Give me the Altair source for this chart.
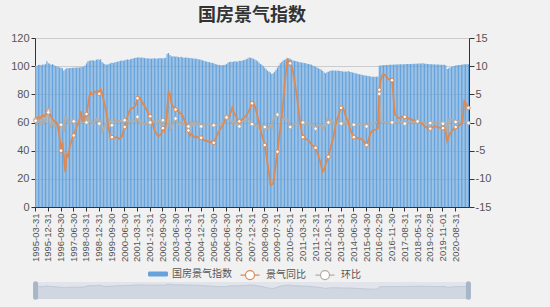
import altair as alt
import pandas as pd

# ---- categories: month spans (year, first month, last month) ----
year_spans = ([(1995, 3, 12)] + [(y, 1, 12) for y in range(1996, 2009)]
              + [(y, 2, 12) for y in range(2009, 2017)]
              + [(y, 1, 12) for y in range(2017, 2021)] + [(2021, 2, 6)])

tick_labels = ["1995-03-31", "1995-12-31", "1996-09-30", "1997-06-30", "1998-03-31",
               "1998-12-31", "1999-09-30", "2000-06-30", "2001-03-31", "2001-12-31",
               "2002-09-30", "2003-06-30", "2004-03-31", "2004-12-31", "2005-09-30",
               "2006-06-30", "2007-03-31", "2007-12-31", "2008-09-30", "2009-07-31",
               "2010-05-31", "2011-03-31", "2011-12-31", "2012-10-31", "2013-08-31",
               "2014-06-30", "2015-04-30", "2016-02-29", "2016-11-30", "2017-08-31",
               "2018-05-31", "2019-02-28", "2019-11-01", "2020-08-31"]

# ---- 国房景气指数 (left axis) ----
index_values = [
    100.5, 100.2, 100.8, 101.0, 100.6, 101.2, 101.0, 101.5, 103.5, 102.0,
    101.8, 101.0, 101.5, 100.8, 100.2, 99.8, 99.5, 99.0, 98.8, 98.5, 96.8, 97.8,
    98.5, 98.6, 98.6, 98.7, 98.8, 98.8, 98.9, 99.0, 99.0, 99.1, 99.3, 99.5,
    99.6, 100.5, 102.0, 103.5, 103.8, 104.0, 104.2, 104.0, 103.8, 104.5, 105.0, 104.5,
    105.0, 103.0, 102.0, 101.5, 101.0, 101.2, 101.8, 102.0, 102.5, 102.3, 102.8, 103.0,
    103.2, 103.5, 103.8, 104.0, 103.8, 104.2, 104.5, 104.8, 104.6, 105.0, 105.2, 105.5,
    105.8, 106.0, 106.2, 106.3, 106.0, 106.2, 106.0, 105.8, 105.5, 105.6, 105.4, 105.5,
    105.3, 105.4, 105.6, 105.5, 105.3, 105.6, 105.8, 105.5, 105.6, 105.7, 106.0, 108.8,
    109.3, 108.0, 107.0, 106.8, 107.0, 106.6, 106.8, 106.5, 106.4, 106.6, 106.2, 106.0,
    106.2, 105.9, 106.0, 105.6, 105.8, 105.4, 105.5, 105.2, 105.3, 105.0, 104.8, 104.5,
    104.2, 103.8, 103.5, 103.3, 103.0, 102.8, 102.5, 102.2, 102.0, 101.6, 101.2, 101.0,
    100.8, 100.7, 100.6, 100.8, 101.0, 101.5, 102.5, 103.0, 103.2, 103.0, 103.3, 103.5,
    103.2, 103.4, 103.8, 103.6, 104.0, 104.2, 104.5, 105.0, 105.5, 106.2, 106.0, 105.6,
    105.2, 104.8, 104.2, 103.5, 102.5, 101.5, 101.0, 100.0, 98.8, 97.8, 96.8, 96.0,
    95.5, 94.5, 95.0, 96.0, 97.5, 99.0, 100.5, 102.0, 103.0, 104.0, 104.5,
    105.0, 105.5, 105.6, 105.3, 104.5, 104.0, 103.8, 103.6, 103.4, 103.0, 102.8,
    102.6, 102.5, 102.2, 102.0, 101.8, 101.6, 101.4, 101.0, 100.5, 100.0, 99.5,
    99.0, 98.5, 97.9, 97.5, 96.5, 95.5, 95.0, 95.6, 96.0, 96.6, 97.0,
    97.0, 97.0, 96.8, 96.8, 96.9, 96.6, 96.6, 96.3, 96.0, 96.2, 96.0,
    96.5, 96.0, 95.8, 95.5, 95.3, 95.0, 94.8, 94.5, 94.2, 94.0, 93.8,
    93.6, 93.4, 93.2, 93.0, 92.8, 92.6, 92.5, 92.4, 92.4, 92.5, 92.6,
    100.3, 100.5, 100.6, 100.7, 100.8, 100.8, 100.9, 101.0, 101.0, 101.0, 101.1,
    101.1, 101.2, 101.2, 101.3, 101.3, 101.3, 101.4, 101.4, 101.5, 101.5, 101.5, 101.6,
    101.6, 101.7, 101.7, 101.8, 101.8, 101.9, 101.9, 101.9, 102.0, 101.8, 101.7, 101.5,
    101.5, 101.4, 101.4, 101.3, 101.2, 101.2, 101.2, 101.1, 101.0, 101.0, 101.0, 101.0,
    100.5, 98.0, 98.5, 99.0, 99.5, 100.0, 100.2, 100.4, 100.6, 100.8, 100.9, 101.0,
    101.2, 101.3, 101.4, 101.4, 101.3,
]

# ---- 景气同比 (right axis) ----
yoy_values = [
    0.5, 0.8, 1.0, 0.7, 1.0, 1.3, 1.1, 1.4, 1.8, 2.1,
    1.6, 1.0, 0.6, 0.3, 0.1, 0.0, -1.0, -2.5, -5.0, -3.5, -6.0, -8.8,
    -5.5, -6.2, -4.5, -3.5, -2.8, -2.3, -1.5, -0.7, -0.3, 0.5, 2.0, 0.3,
    0.4, 1.2, 1.5, 3.0, 4.6, 5.3, 5.0, 5.2, 5.5, 5.4, 5.6, 5.1,
    5.9, 5.2, 4.1, 3.0, 1.7, 0.0, -1.5, -2.7, -2.6, -2.8, -2.7, -2.6,
    -2.7, -2.9, -2.7, -2.5, -1.5, -0.8, 0.2, 1.1, 1.8, 2.4, 2.5, 2.6,
    2.8, 3.2, 4.3, 4.5, 4.2, 3.8, 3.3, 3.0, 2.5, 2.0, 1.4, 1.1,
    0.3, -0.5, -1.3, -1.8, -2.2, -2.4, -2.2, -1.9, -1.0, -1.5, -0.5, 2.0,
    5.6, 5.0, 3.5, 2.9, 2.6, 2.3, 2.2, 2.0, 1.7, 1.5, 1.2, 0.5,
    0.0, -0.8, -1.4, -2.4, -2.0, -2.2, -2.6, -2.7, -2.5, -2.7, -2.6, -2.7,
    -2.9, -3.1, -3.3, -3.2, -3.4, -3.3, -3.5, -3.4, -3.6, -3.0, -2.5, -1.8,
    -1.4, -1.0, -0.6, -0.1, 0.5, 1.0, 0.8, 1.2, 1.8, 2.6, 2.0, 1.4,
    0.9, 0.5, 0.2, 0.4, 0.6, 0.8, 1.0, 1.3, 1.7, 2.2, 2.8, 3.4,
    3.5, 2.9, 2.0, 1.0, 0.0, -1.2, -2.2, -3.0, -4.0, -5.5, -7.2, -9.0,
    -11.1, -11.0, -10.8, -9.0, -7.0, -5.2, -3.0, -1.0, 1.0, 3.5, 6.5,
    9.0, 11.2, 10.9, 10.5, 10.0, 9.0, 7.5, 5.8, 4.1, 2.0, 0.0,
    -1.5, -2.6, -2.8, -3.0, -3.0, -3.2, -3.5, -3.9, -4.1, -4.3, -4.5,
    -5.2, -6.0, -6.8, -7.8, -8.7, -8.3, -7.5, -6.8, -6.1, -5.0, -4.0,
    -3.2, -2.0, -0.5, 0.5, 1.1, 2.0, 2.6, 2.8, 2.2, 1.3, 0.6,
    0.2, -0.8, -1.6, -2.1, -2.6, -2.6, -2.7, -2.8, -2.8, -2.9, -3.0,
    -3.3, -3.7, -4.0, -3.5, -2.5, -1.8, -1.5, -1.3, -1.3, -1.2, -1.0,
    5.8, 7.5, 8.3, 8.6, 8.4, 8.1, 7.8, 7.6, 7.6, 7.5, 4.5,
    1.5, 1.2, 0.9, 0.8, 0.8, 1.0, 1.1, 1.0, 0.9, 0.8, 0.7, 0.6,
    0.5, 0.4, 0.4, 0.3, 0.2, 0.1, 0.0, -0.2, -0.4, -0.6, -0.8, -1.0,
    -1.0, -1.1, -0.9, -0.8, -0.7, -0.7, -0.8, -0.9, -0.9, -1.0, -1.0, -1.2,
    -1.8, -3.3, -2.6, -2.0, -1.6, -1.3, -1.0, -0.8, -0.7, -0.6, -0.4, -0.3,
    0.5, 3.8, 3.5, 3.0, 2.6,
]

# ---- 环比 (right axis) ----
mom_values = [
    0.3, -0.3, 0.6, 0.2, -0.4, 0.6, -0.2, 0.5, 2.0, 1.8,
    -0.2, -0.8, 0.5, -0.7, -0.6, -0.4, -0.3, -0.5, -0.4, -0.3, -1.7, 1.0,
    0.7, 0.1, 0.0, 0.1, 0.1, 0.2, 0.1, 0.1, 0.0, 0.1, 0.2, 0.2,
    0.1, 0.9, 0.0, 1.5, 0.3, 0.0, 0.2, -0.2, -0.2, 0.7, 0.5, -0.2,
    0.5, -2.0, -1.0, -0.5, -0.5, 0.2, 0.6, 0.2, -0.5, -0.2, 0.5, 0.2,
    0.2, 0.3, 0.3, 0.2, -0.2, 0.4, 0.3, 0.3, -0.2, 0.4, 0.2, 0.3,
    0.3, 0.2, 1.0, 0.1, -0.3, 0.2, -0.2, -0.2, -0.3, 0.1, -0.2, 0.0,
    -0.2, 0.1, 0.2, -0.1, -0.2, 0.3, 0.2, -0.3, 0.4, 0.1, 0.3, 2.8,
    0.5, -1.3, -1.0, -0.2, 0.2, 0.7, 0.2, -0.3, -0.1, 0.2, -0.4, -0.2,
    0.2, -0.3, -0.7, -0.4, 0.2, -0.4, 0.1, -0.3, 0.1, -0.3, -0.2, -0.7,
    -0.3, -0.4, -0.3, -0.2, -0.3, -0.2, -0.3, -0.3, -0.5, -0.4, -0.4, -0.2,
    -0.2, -0.1, -0.1, 0.2, 0.2, 0.9, 1.0, 0.5, 0.2, -0.2, 0.3, 0.2,
    -0.3, 0.2, -0.7, -0.2, 0.4, 0.2, 0.3, 0.5, 0.5, 0.7, -0.2, -0.3,
    -0.4, -0.4, -0.6, -0.7, -1.0, -1.0, -0.5, -1.0, -0.8, -1.0, -1.0, -0.8,
    -0.5, -1.0, 0.5, 1.0, 1.5, 1.4, 1.5, 1.5, 1.0, 1.0, 0.5,
    0.5, 0.5, 0.1, -0.8, -0.8, -0.5, -0.2, -0.2, -0.2, -0.4, -0.2,
    -0.2, 0.0, -0.3, -0.2, -0.2, -0.2, -0.2, -0.4, -0.5, -0.5, -1.1,
    -0.5, -0.5, -0.6, -0.4, -1.0, -1.0, -0.5, 0.6, 0.0, 0.6, 0.4,
    0.0, 0.0, -0.2, 0.0, 0.1, -0.3, -0.2, -0.3, -0.3, 0.2, -0.2,
    0.5, -0.5, -0.2, -0.3, -0.4, -0.3, -0.2, -0.3, -0.3, -0.2, -0.2,
    -0.2, -0.2, -0.7, -0.2, -0.2, -0.2, -0.1, -0.1, 0.0, 0.1, 0.1,
    5.1, 0.2, 0.1, 0.1, 0.1, 0.0, 0.1, 0.1, 0.0, 0.0, 0.1,
    0.0, 0.1, 0.0, 0.1, 0.0, 0.0, 0.1, -0.2, 0.1, 0.0, 0.0, 0.1,
    0.0, 0.1, 0.0, 0.1, 0.2, 0.1, 0.0, 0.0, 0.1, -0.2, -0.1, -0.2,
    0.0, -0.1, 0.0, -0.1, -0.1, 0.0, 0.0, -0.1, -0.1, 0.0, -0.2, 0.0,
    -0.5, -2.5, 0.5, 0.5, 0.5, 0.5, 0.2, 0.1, 0.2, 0.2, 0.1, 0.1,
    0.2, 0.1, 0.1, 0.0, -0.1,
]

bar_name = ["国房景气指数"]
line_names = ["景气同比", "环比"]
bar_color = ["#66a3dc"]
line_colors = ["#dc8a55", "#b3aca4"]

dates = []
for y, m0, m1 in year_spans:
    for m in range(m0, m1 + 1):
        d = (pd.Timestamp(y, m, 1) + pd.offsets.MonthEnd(0)).strftime("%Y-%m-%d")
        dates.append("2019-11-01" if d == "2019-11-30" else d)

df = pd.DataFrame({
    "date": dates,
    "i": list(range(len(dates))),
    "idx": index_values,
    "景气同比": yoy_values,
    "环比": mom_values,
})

FONT = "Liberation Sans"
CJK = "Noto Sans CJK SC"
BG = "#f1f1f1"

RECT = ("M-0.86,-0.26L0.86,-0.26A0.14,0.14 0 0 1 1,-0.12L1,0.12A0.14,0.14 0 0 1 0.86,0.26"
        "L-0.86,0.26A0.14,0.14 0 0 1 -1,0.12L-1,-0.12A0.14,0.14 0 0 1 -0.86,-0.26Z")
LINESYM = ("M-0.95,0L-0.45,0M0.45,0L0.95,0M0.45,0A0.45,0.45 0 1 1 -0.45,0"
           "A0.45,0.45 0 1 1 0.45,0Z")

bar_legend = alt.Legend(
    title=None, orient="none", direction="horizontal", legendX=113, legendY=226,
    labelFont=CJK, labelFontSize=10, labelColor="#555555", labelOffset=4,
    symbolType=RECT, symbolSize=400, symbolStrokeWidth=0, symbolOpacity=1, padding=0,
)
line_legend = alt.Legend(
    title=None, orient="none", direction="horizontal", legendX=204, legendY=226,
    labelFont=CJK, labelFontSize=10, labelColor="#555555", labelOffset=5,
    columnPadding=7, symbolType=LINESYM, symbolSize=400, symbolStrokeWidth=1.2,
    symbolFillColor="#ffffff", symbolOpacity=1, padding=0,
)

fill_enc = alt.Fill("s:N", scale=alt.Scale(domain=bar_name, range=bar_color), legend=bar_legend)
stroke_enc = alt.Stroke("s:N", scale=alt.Scale(domain=line_names, range=line_colors), legend=line_legend)

x_enc = alt.X(
    "date:O",
    scale=alt.Scale(domain=dates, paddingInner=0.2, paddingOuter=0),
    axis=alt.Axis(values=tick_labels, labelAngle=270, title=None, labelFont=FONT,
                  labelFontSize=9.5, labelColor="#555555", tickSize=4, labelPadding=2,
                  domainColor="#333333", tickColor="#333333", labelOverlap=False),
)

base = alt.Chart(df)

bars = base.transform_calculate(s="'国房景气指数'").mark_bar().encode(
    x=x_enc,
    y=alt.Y("idx:Q", scale=alt.Scale(domain=[0, 120]),
            axis=alt.Axis(values=[0, 20, 40, 60, 80, 100, 120], title=None, orient="left",
                          labelFont=FONT, labelFontSize=11, labelColor="#555555",
                          tickSize=4, labelPadding=2, domainColor="#333333",
                          tickColor="#333333", grid=True, gridColor="#cccccc")),
    fill=fill_enc,
)

y_right = alt.Y("v:Q", scale=alt.Scale(domain=[-15, 15]),
                axis=alt.Axis(values=[-15, -10, -5, 0, 5, 10, 15], title=None, orient="right",
                              labelExpr="datum.value + ''", labelFont=FONT, labelFontSize=11,
                              labelColor="#555555", tickSize=5, labelPadding=1,
                              domainColor="#333333", tickColor="#333333", grid=False))

folded = base.transform_fold(["景气同比", "环比"], as_=["s", "v"])
mom_line = folded.transform_filter("datum.s === '环比'").mark_line(strokeWidth=1.8).encode(
    x=x_enc, y=y_right, stroke=stroke_enc)
yoy_line = folded.transform_filter("datum.s === '景气同比'").mark_line(strokeWidth=1.8).encode(
    x=x_enc, y=y_right, stroke=stroke_enc)
dots = folded.transform_filter("datum.i % 9 === 0").mark_point(
    filled=False, opacity=1, size=13, strokeWidth=1
).encode(x=x_enc, y=y_right, stroke=stroke_enc, fill=alt.value("#ffffff"))

lines = alt.layer(mom_line, yoy_line, dots)

# ---- data-zoom style slider below the chart ----
slider_scale = alt.Scale(domain=[60, 116], range=[261, 244], zero=False)
slider_bg = base.mark_area(color="#e1e5eb", opacity=1).encode(
    x=x_enc, y=alt.Y(datum=116, scale=slider_scale, axis=None), y2=alt.datum(60))
slider_area = base.mark_area(color="#d0d7e1", opacity=1,
                             line={"color": "#bfc8d5", "strokeWidth": 1}).encode(
    x=x_enc, y=alt.Y("idx:Q", scale=slider_scale, axis=None), y2=alt.datum(60))
slider_handles = base.transform_filter("datum.i === 0 || datum.i === 306").mark_rule(
    color="#a8b6ca", strokeWidth=5, strokeCap="round").encode(
    x=x_enc, y=alt.Y(datum=110, scale=slider_scale, axis=None), y2=alt.datum(66))
slider = alt.layer(slider_bg, slider_area, slider_handles)

chart = alt.layer(bars, lines, slider).resolve_scale(y="independent").properties(
    width=434, height=169,
    autosize=alt.AutoSizeParams(type="none"),
    padding={"left": 35, "top": 38, "right": 81, "bottom": 100},
    title=alt.Title("国房景气指数", font=CJK, fontSize=18, fontWeight="bold",
                    color="#333333", anchor="middle", offset=7),
).configure(background=BG).configure_view(stroke=None)

chart.save("out.html", embed_options={"renderer": "svg", "actions": False})
